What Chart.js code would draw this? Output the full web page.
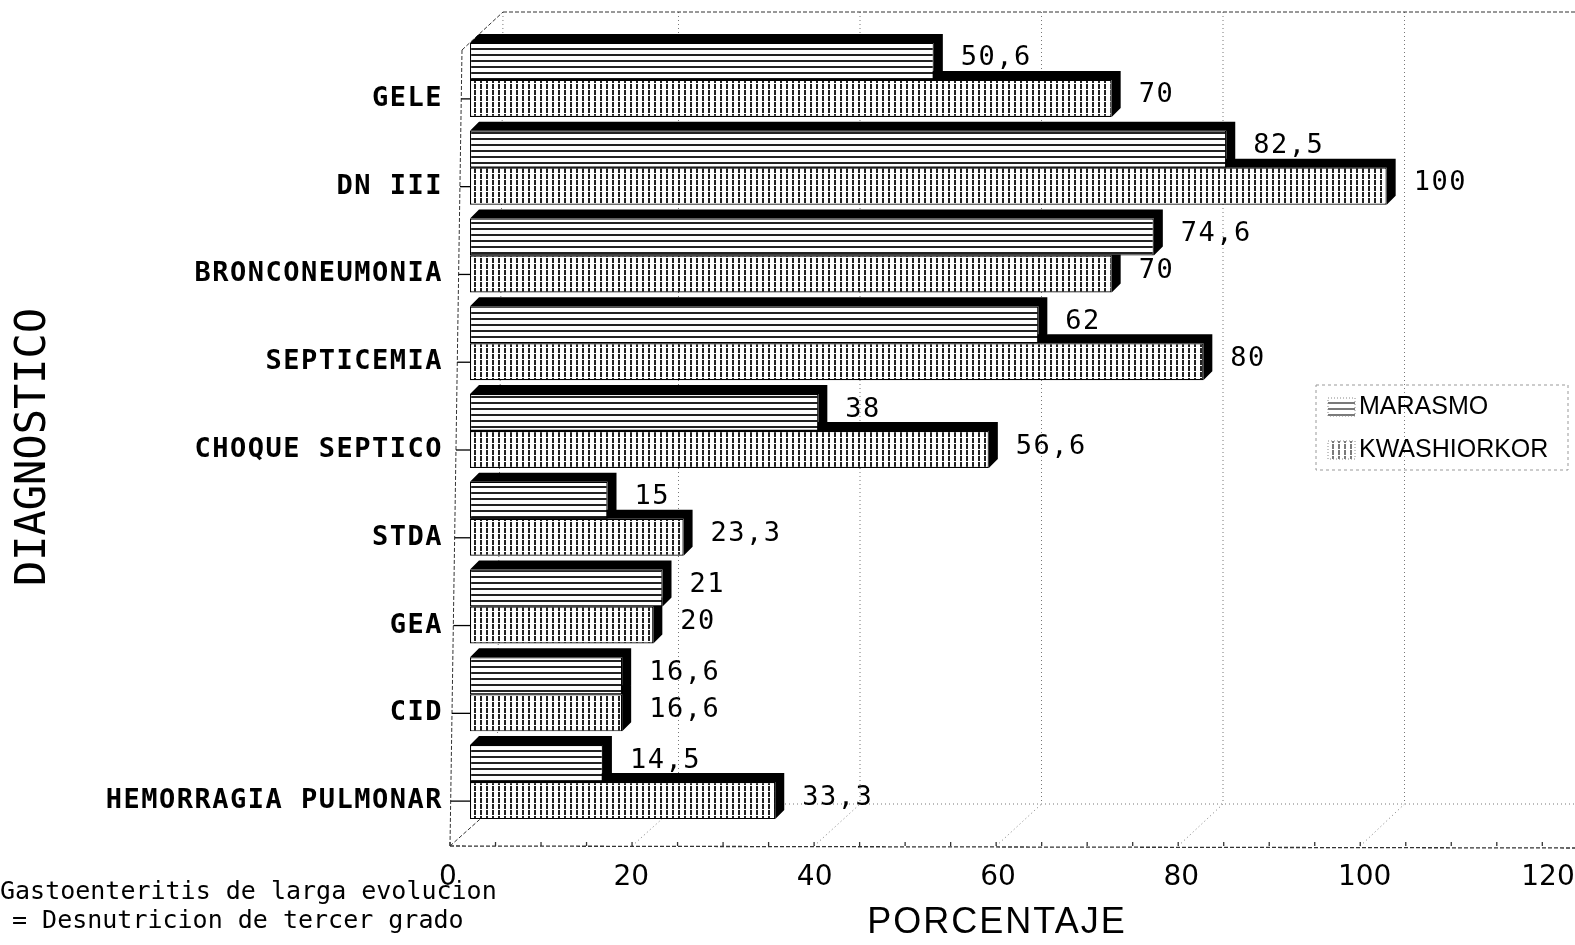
<!DOCTYPE html>
<html>
<head>
<meta charset="utf-8">
<script src="https://cdn.jsdelivr.net/npm/chart.js@4.4.1/dist/chart.umd.min.js"></script>
<style>
  html, body { margin: 0; padding: 0; background: #fff; }
  #wrap { width: 1575px; height: 945px; position: relative; }
</style>
</head>
<body>
<div id="wrap"><canvas id="myChart"></canvas></div>
<script>
"use strict";

// Chart data
const categories = ["GELE", "DN III", "BRONCONEUMONIA", "SEPTICEMIA", "CHOQUE SEPTICO", "STDA", "GEA", "CID", "HEMORRAGIA PULMONAR"];
const seriesNames = ["MARASMO", "KWASHIORKOR"];
const marasmo = [50.6, 82.5, 74.6, 62, 38, 15, 21, 16.6, 14.5];
const kwashiorkor = [70, 100, 70, 80, 56.6, 23.3, 20, 16.6, 33.3];
const xTicks = [0, 20, 40, 60, 80, 100, 120];
const xTitle = "PORCENTAJE";
const yTitle = "DIAGNOSTICO";
const footnotes = ["Gastoenteritis de larga evolucion", "= Desnutricion de tercer grado"];

const MONO = '"DejaVu Sans Mono", monospace';
const SANS = '"Liberation Sans", Arial, sans-serif';
const DEPTH = 9; // size of the fake 3d top / side faces

// hatch fills (horizontal lines / broken vertical lines)
function makeHatch(g, dir) {
  const tile = document.createElement("canvas");
  tile.width = 6;
  tile.height = 6;
  const t = tile.getContext("2d");
  t.fillStyle = "#fff";
  t.fillRect(0, 0, 6, 6);
  t.fillStyle = "#222";
  if (dir === "h") t.fillRect(0, 0, 6, 2);
  else t.fillRect(0, 0, 2, 5);
  return g.createPattern(tile, "repeat");
}

// the floor / back wall are drawn slightly off the bar scale (perspective)
function frontX(xs, v) { return xs.getPixelForValue(v * 0.993) - 20; }
function backX(xs, v) { return xs.getPixelForValue(v * 0.99) + 27; }

function line(ctx, x1, y1, x2, y2) {
  ctx.beginPath();
  ctx.moveTo(x1, y1);
  ctx.lineTo(x2, y2);
  ctx.stroke();
}

const fmt = (v) => String(v).replace(".", ",");

const frame3d = {
  id: "frame3d",
  beforeDraw(chart) {
    // the scan is wide-lettered: space out the category labels a little
    const ys = chart.scales.y;
    if (ys && !ys._spaced) {
      const orig = ys.drawLabels.bind(ys);
      ys.drawLabels = function (area) {
        chart.ctx.save();
        chart.ctx.letterSpacing = "1.5px";
        orig(area);
        chart.ctx.restore();
      };
      ys._spaced = true;
    }
  },
  beforeDatasetsDraw(chart) {
    const { ctx, chartArea: a, scales: { x } } = chart;
    const W = chart.width;
    const topY = a.top - 24, backY = a.bottom - 22, frontY = a.bottom + 20;
    const btl = [backX(x, 0) + 6, topY];
    const bbl = [backX(x, 0), backY];
    const ftl = [a.left - 8, a.top + 14];
    const fbl = [frontX(x, 0), frontY];

    ctx.save();
    ctx.lineWidth = 1;
    // back wall grid lines
    ctx.strokeStyle = "#777";
    ctx.setLineDash([1, 3]);
    for (let v = xTicks[1]; v < xTicks[xTicks.length - 1]; v += 20) {
      line(ctx, backX(x, v), topY, backX(x, v), backY);
      line(ctx, frontX(x, v), frontY, backX(x, v), backY);
    }
    line(ctx, bbl[0], bbl[1], W, backY);
    line(ctx, btl[0], btl[1], bbl[0], bbl[1]);

    // outline of the box
    ctx.strokeStyle = "#333";
    ctx.setLineDash([4, 2]);
    line(ctx, btl[0], btl[1], W, topY);
    line(ctx, ftl[0], ftl[1], btl[0], btl[1]);
    line(ctx, ftl[0], ftl[1], fbl[0], fbl[1]);
    line(ctx, fbl[0], fbl[1], bbl[0], bbl[1]);
    ctx.lineWidth = 1.3;
    line(ctx, fbl[0], fbl[1], W, frontY + 2);
    ctx.setLineDash([]);
    for (let v = 0; v <= 120; v += 5) {
      const fx = frontX(x, v);
      line(ctx, fx, frontY, fx, frontY - 4);
    }
    ctx.restore();
  },
  beforeDatasetDraw(chart, args) {
    // black top and right faces, drawn under the bars of the same series
    const { ctx } = chart;
    const meta = chart.getDatasetMeta(args.index);
    ctx.save();
    ctx.fillStyle = "#000";
    meta.data.forEach((el) => {
      const { x, y, base, height } = el.getProps(["x", "y", "base", "height"], true);
      const top = y - height / 2, bottom = y + height / 2;
      ctx.beginPath();
      ctx.moveTo(base, top);
      ctx.lineTo(base + DEPTH, top - DEPTH);
      ctx.lineTo(x + DEPTH, top - DEPTH);
      ctx.lineTo(x + DEPTH, bottom - DEPTH);
      ctx.lineTo(x, bottom);
      ctx.lineTo(x, top);
      ctx.closePath();
      ctx.fill();
    });
    ctx.restore();
  },
  afterDatasetsDraw(chart) {
    const { ctx, chartArea: a, scales: { y } } = chart;
    ctx.save();

    // value labels
    ctx.fillStyle = "#000";
    ctx.font = "27px " + MONO;
    ctx.letterSpacing = "1.5px";
    ctx.textAlign = "left";
    ctx.textBaseline = "middle";
    chart.data.datasets.forEach((ds, di) => {
      chart.getDatasetMeta(di).data.forEach((el, i) => {
        ctx.fillText(fmt(ds.data[i]), el.x + 27, el.y - 3);
      });
    });
    ctx.letterSpacing = "0px";

    // category tick marks from the left wall
    ctx.strokeStyle = "#000";
    ctx.lineWidth = 1.3;
    categories.forEach((c, i) => {
      const ty = y.getPixelForValue(i) + 19;
      const wx = (a.left - 8) + (-12) * (ty - (a.top + 14)) / (a.bottom + 20 - (a.top + 14));
      line(ctx, wx, ty, a.left, ty);
    });
    ctx.restore();
  },
  afterDraw(chart) {
    const { ctx } = chart;
    ctx.save();
    ctx.fillStyle = "#000";

    // axis titles
    ctx.font = "36px " + SANS;
    ctx.letterSpacing = "2px";
    ctx.textAlign = "center";
    ctx.textBaseline = "middle";
    ctx.fillText(xTitle, 997, 923);
    ctx.letterSpacing = "0px";
    ctx.save();
    ctx.translate(34, 447);
    ctx.rotate(-Math.PI / 2);
    ctx.font = "42px " + MONO;
    ctx.fillText(yTitle, 0, 0);
    ctx.restore();

    // footnotes
    ctx.font = "25px " + MONO;
    ctx.textAlign = "left";
    ctx.fillText(footnotes[0], 0, 892);
    ctx.fillText(footnotes[1], 12, 921);

    // legend box
    ctx.strokeStyle = "#999";
    ctx.lineWidth = 1;
    ctx.setLineDash([3, 3]);
    ctx.strokeRect(1316, 385, 252, 85);
    ctx.font = "25px " + SANS;
    chart.data.datasets.forEach((ds, i) => {
      const ly = 407 + i * 43;
      ctx.fillStyle = ds.backgroundColor;
      ctx.globalAlpha = 0.6;
      ctx.fillRect(1328, ly - 9, 27, 18);
      ctx.globalAlpha = 1;
      ctx.strokeStyle = "#888";
      ctx.setLineDash([1, 2]);
      ctx.strokeRect(1328, ly - 9, 27, 18);
      ctx.fillStyle = "#000";
      ctx.fillText(ds.label, 1359, ly);
    });
    ctx.restore();
  },
};

const canvas = document.getElementById("myChart");
const g = canvas.getContext("2d");

new Chart(canvas, {
  type: "bar",
  data: {
    labels: categories,
    datasets: [
      {
        label: seriesNames[0],
        data: marasmo,
        backgroundColor: makeHatch(g, "h"),
        borderColor: "#000",
        borderWidth: 1.2,
        borderSkipped: false,
        categoryPercentage: 0.843,
        barPercentage: 1,
      },
      {
        label: seriesNames[1],
        data: kwashiorkor,
        backgroundColor: makeHatch(g, "v"),
        borderColor: "#000",
        borderWidth: 1.2,
        borderSkipped: false,
        categoryPercentage: 0.843,
        barPercentage: 1,
      },
    ],
  },
  options: {
    indexAxis: "y",
    responsive: true,
    maintainAspectRatio: false,
    animation: false,
    layout: { padding: { top: 36, right: 5, left: 0, bottom: 0 } },
    plugins: {
      legend: { display: false },
      tooltip: { enabled: false },
    },
    scales: {
      x: {
        min: xTicks[0],
        max: xTicks[xTicks.length - 1],
        ticks: {
          stepSize: xTicks[1] - xTicks[0],
          padding: 27,
          labelOffset: -22,
          color: "#000",
          font: { family: '"DejaVu Sans", sans-serif', size: 28 },
        },
        grid: { display: false },
        border: { display: false },
        afterFit(scale) {
          scale.height = 119;
          scale.paddingLeft = 0;
          scale.paddingRight = 0;
        },
      },
      y: {
        ticks: {
          autoSkip: false,
          padding: 19,
          labelOffset: 19,
          color: "#000",
          font: { family: MONO, size: 27, weight: "bold" },
        },
        grid: { display: false },
        border: { display: false },
        afterFit(scale) {
          scale.width = 470;
          scale.paddingTop = 0;
          scale.paddingBottom = 0;
        },
      },
    },
  },
  plugins: [frame3d],
});
</script>
</body>
</html>
